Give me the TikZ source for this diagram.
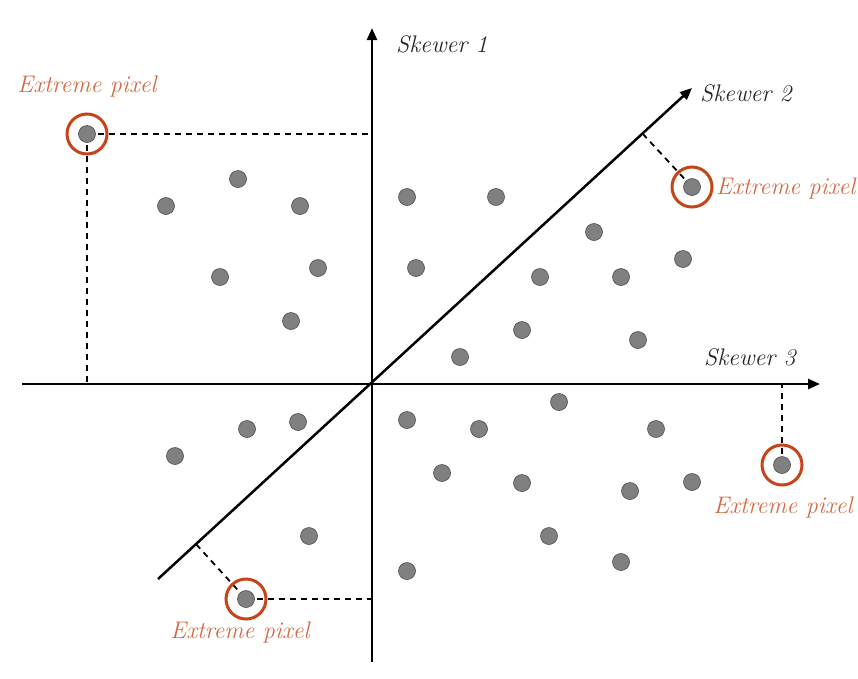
\documentclass[tikz,border=0pt]{standalone}
\usetikzlibrary{arrows.meta,calc}
\definecolor{rost}{RGB}{198,68,26}
\definecolor{beschrift}{RGB}{212,106,66}

\begin{document}
\begin{tikzpicture}[x=1pt,y=-1pt,
  punkt/.style={circle,draw=black!70,fill=black!50,line width=0.6pt,inner sep=0pt,minimum size=17pt},
  ring/.style={circle,draw=rost,line width=3pt,inner sep=0pt,minimum size=40pt},
  achse/.style={line width=2.5pt,-{Triangle[length=12pt,width=10pt]}},
  lot/.style={line width=1.8pt,dash pattern=on 6pt off 5pt},
  schrift/.style={font=\fontsize{24}{28}\selectfont\itshape,inner sep=0pt}]
  \useasboundingbox (0,0) rectangle (858,678);

  % Achsen
  \coordinate (O) at (372,384);
  \coordinate (s1) at (372,28);
  \coordinate (s1u) at (372,662);
  \coordinate (s2) at (692,88);
  \coordinate (s2u) at (158,579);
  \coordinate (s3) at (820,384);
  \coordinate (s3l) at (22,384);
  \draw[achse] (s1u) -- (s1);
  \draw[achse] (s2u) -- (s2);
  \draw[achse] (s3l) -- (s3);
  \node[schrift,text=black!85,anchor=west] (t1) at (396,44) {Skewer 1};
  \node[schrift,text=black!85,anchor=west] (t2) at (700,93) {Skewer 2};
  \node[schrift,text=black!85,anchor=west] (t3) at (704,357) {Skewer 3};

  % Punkte
  \foreach \x/\y [count=\i] in {238/179,166/206,300/206,220/277,318/268,291/321,
      407/197,496/197,594/232,416/268,540/277,621/277,683/259,522/330,460/357,638/340,
      559/402,407/420,479/429,656/429,298/422,247/429,175/456,442/473,522/483,
      630/491,692/482,309/536,549/536,621/562,407/571}
    \node[punkt] (p\i) at (\x,\y) {};

  % Extrempunkte
  \coordinate (e1) at (87,134);
  \coordinate (e2) at (692,187);
  \coordinate (e3) at (782,465);
  \coordinate (e4) at (246,599);
  \draw[lot] (e1) -- (e1 -| O);
  \draw[lot] (e1) -- (e1 |- O);
  \draw[lot] ($(O)!(e2)!(s2)$) -- (e2);
  \draw[lot] (e3) -- (e3 |- O);
  \draw[lot] (e4) -- (e4 -| O);
  \draw[lot] ($(O)!(e4)!(s2u)$) -- (e4);
  \foreach \i in {1,...,4}{
    \node[punkt] (x\i) at (e\i) {};
    \node[ring] (r\i) at (e\i) {};
  }
  \node[schrift,text=beschrift] (b1) at (87,86) {Extreme pixel};
  \node[schrift,text=beschrift,anchor=west] (b2) at (716,188) {Extreme pixel};
  \node[schrift,text=beschrift] (b3) at (783,507) {Extreme pixel};
  \node[schrift,text=beschrift] (b4) at (240,632) {Extreme pixel};
\end{tikzpicture}
\end{document}
